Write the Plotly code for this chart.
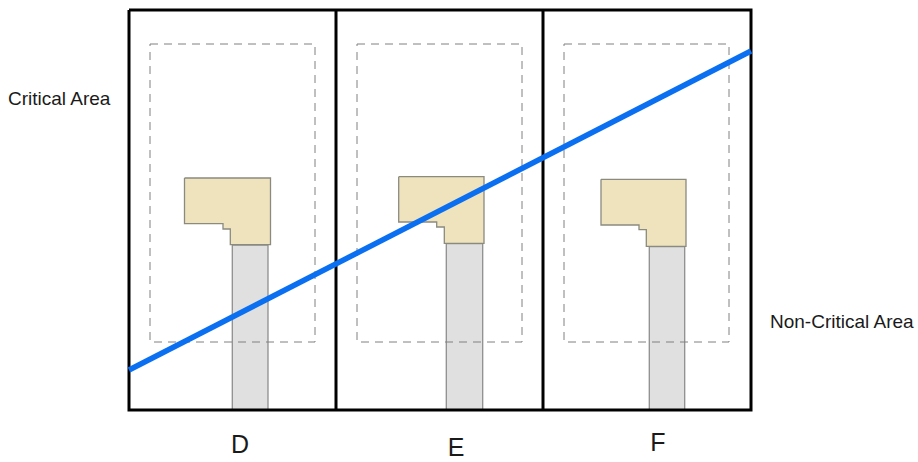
import plotly.graph_objects as go

# Values, in image units
frame_x = [129, 751, 751, 129, 129]
frame_y = [10, 10, 410, 410, 10]
divider_xs = [336, 543]
divider_y = [10, 410]

lot_labels = ["D", "E", "F"]
label_x = [240, 456, 658]
label_y = [447, 450, 445]

setback_x = [[150, 315, 315, 150, 150], [357, 522, 522, 357, 357], [564, 729, 729, 564, 564]]
setback_y = [44, 44, 342, 342, 44]

drive_x = [[232.3, 268, 268, 232.3, 232.3], [446.3, 482.7, 482.7, 446.3, 446.3], [649.3, 684.7, 684.7, 649.3, 649.3]]
drive_top = [245, 243.5, 246.5]
drive_bottom = 410

house_x = [
    [184.5, 270.5, 270.5, 230.3, 230.3, 223, 223, 184.5, 184.5],
    [398.7, 484, 484, 444.3, 444.3, 436.7, 436.7, 398.7, 398.7],
    [601, 686, 686, 646.3, 646.3, 639, 639, 601, 601],
]
house_y = [
    [178, 178, 244.7, 244.7, 229, 229, 223.7, 223.7, 178],
    [176.7, 176.7, 243.3, 243.3, 227, 227, 222, 222, 176.7],
    [179.3, 179.3, 246.3, 246.3, 229.7, 229.7, 225, 225, 179.3],
]

boundary_x = [129, 751]
boundary_y = [370, 51]

area_labels = ["Critical Area", "Non-Critical Area"]
area_x = [8, 770]
area_y = [100.5, 323.5]

fig = go.Figure()

for xs, top in zip(drive_x, drive_top):
    fig.add_trace(go.Scatter(x=xs, y=[top, top, drive_bottom, drive_bottom, top], mode="lines",
                             fill="toself", fillcolor="#e0e0e0",
                             line=dict(color="#8f8f8f", width=1.3), hoverinfo="skip"))

for xs, ys in zip(house_x, house_y):
    fig.add_trace(go.Scatter(x=xs, y=ys, mode="lines", fill="toself", fillcolor="#efe3bd",
                             line=dict(color="#8a8a80", width=1.3), hoverinfo="skip"))

for xs in setback_x:
    fig.add_trace(go.Scatter(x=xs, y=setback_y, mode="lines",
                             line=dict(color="#808080", width=1, dash="8px,6px"), hoverinfo="skip"))

fig.add_trace(go.Scatter(x=frame_x, y=frame_y, mode="lines",
                         line=dict(color="#000000", width=3), hoverinfo="skip"))
for dx in divider_xs:
    fig.add_trace(go.Scatter(x=[dx, dx], y=divider_y, mode="lines",
                             line=dict(color="#000000", width=3), hoverinfo="skip"))

fig.add_trace(go.Scatter(x=boundary_x, y=boundary_y, mode="lines",
                         line=dict(color="#0a6ff0", width=5.5), hoverinfo="skip"))

fig.add_trace(go.Scatter(x=area_x, y=area_y, mode="text", text=area_labels,
                         textposition="middle right",
                         textfont=dict(family="Liberation Sans", size=19, color="#1a1a1a"),
                         hoverinfo="skip"))
fig.add_trace(go.Scatter(x=label_x, y=label_y, mode="text", text=lot_labels,
                         textposition="middle center",
                         textfont=dict(family="Liberation Sans", size=25, color="#1a1a1a"),
                         hoverinfo="skip"))

fig.update_layout(
    width=918, height=462, margin=dict(l=0, r=0, t=0, b=0),
    paper_bgcolor="white", plot_bgcolor="white", showlegend=False,
    xaxis=dict(range=[0, 918], visible=False, fixedrange=True),
    yaxis=dict(range=[462, 0], visible=False, fixedrange=True),
)
fig.write_html("out.html", config={"displayModeBar": False},
               post_script="document.body.style.margin='0';document.body.style.overflow='hidden';")
